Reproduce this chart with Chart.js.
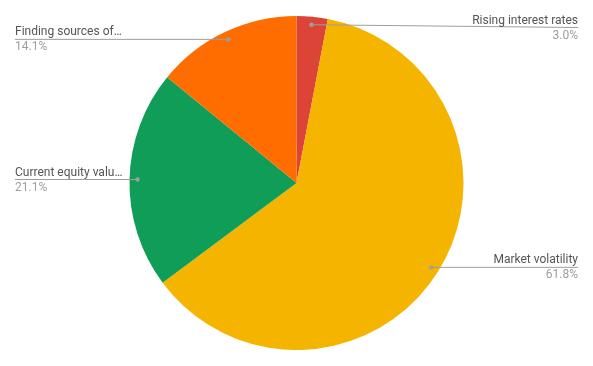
<!DOCTYPE html>
<html>
<head>
<meta charset="utf-8">
<script src="https://cdn.jsdelivr.net/npm/chart.js@4"></script>
<style>
  html, body { margin: 0; padding: 0; background: #fff; }
  #wrap { width: 593px; height: 366px; position: relative; }
</style>
</head>
<body>
<div id="wrap"><canvas id="c" width="593" height="366"></canvas></div>
<script>
const categories = ["Rising interest rates", "Market volatility", "Current equity valu\u2026", "Finding sources of\u2026"];
const shares = [3.0, 61.8, 21.1, 14.1];
const sliceColors = ["#db4437", "#f4b400", "#0f9d58", "#ff6d00"];

// Leader lines with name + percentage, placed to the left or right of the pie
const sideLabels = {
  id: 'sideLabels',
  afterDatasetsDraw(chart) {
    const ctx = chart.ctx;
    const meta = chart.getDatasetMeta(0);
    const total = shares.reduce((a, b) => a + b, 0);
    ctx.save();
    meta.data.forEach((arc, i) => {
      const p = arc.getProps(['x', 'y', 'startAngle', 'endAngle', 'outerRadius'], true);
      const mid = (p.startAngle + p.endAngle) / 2;
      const r = p.outerRadius * 0.952;
      const dx = p.x + Math.cos(mid) * r;
      const dy = p.y + Math.sin(mid) * r;
      const left = dx < p.x;
      const tx = left ? 15 : 578;
      const ly = Math.max(dy, 27.5);
      ctx.font = '12px Roboto, "Noto Sans", sans-serif';
      const name = categories[i];
      const pct = (shares[i] / total * 100).toFixed(1) + '%';
      const w = ctx.measureText(name).width;
      const lineEnd = tx;
      ctx.strokeStyle = '#9e9e9e';
      ctx.lineWidth = 1;
      ctx.beginPath();
      ctx.moveTo(dx, dy);
      ctx.lineTo(lineEnd, ly);
      ctx.stroke();
      ctx.fillStyle = '#9e9e9e';
      ctx.beginPath();
      ctx.arc(dx, dy, 2.2, 0, Math.PI * 2);
      ctx.fill();
      ctx.textAlign = left ? 'left' : 'right';
      ctx.textBaseline = 'alphabetic';
      ctx.fillStyle = '#555555';
      ctx.fillText(name, tx, ly - 4);
      ctx.fillStyle = '#9e9e9e';
      ctx.fillText(pct, tx, ly + 11);
    });
    ctx.restore();
  }
};

new Chart(document.getElementById('c'), {
  type: 'pie',
  data: {
    labels: categories,
    datasets: [{
      data: shares,
      backgroundColor: sliceColors,
      borderWidth: 0
    }]
  },
  options: {
    responsive: false,
    animation: false,
    layout: { padding: { top: 16, bottom: 16, left: 0, right: 0 } },
    plugins: {
      legend: { display: false },
      tooltip: { enabled: false }
    }
  },
  plugins: [sideLabels]
});
</script>
</body>
</html>
